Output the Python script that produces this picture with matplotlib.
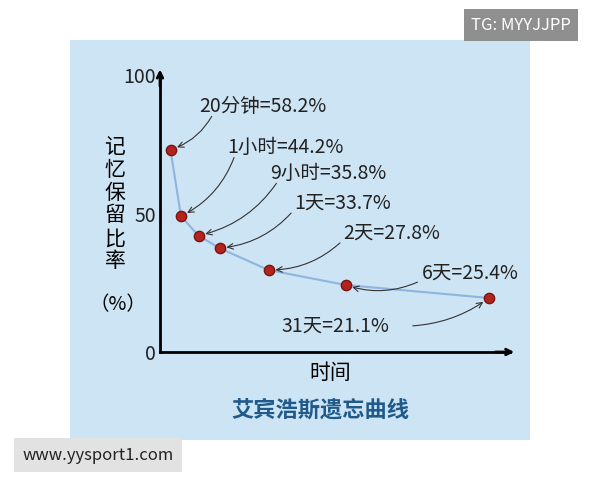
import matplotlib
matplotlib.use('Agg')
import matplotlib.pyplot as plt
from matplotlib.patches import Rectangle

plt.rcParams['font.family'] = ['Noto Sans CJK SC', 'DejaVu Sans']

# curve points (x: arbitrary time axis 0-100, y: % height on axis)
xs = [3, 6, 11, 17, 31, 53, 94]
ys = [73, 49, 42, 37.5, 29.6, 24.2, 19.5]
labels = ['20分钟=58.2%', '1小时=44.2%', '9小时=35.8%', '1天=33.7%',
          '2天=27.8%', '6天=25.4%', '31天=21.1%']
# label centres in pixel coords of the 600x480 image
label_px = [(263, 106), (285, 147), (328, 173), (343, 203),
            (392, 233), (470, 273), (335, 326)]

W, H = 600, 480


def fx(px):
    return px / W


def fy(py):
    return 1 - py / H


fig = plt.figure(figsize=(6, 4.8), dpi=100)
fig.patch.set_facecolor('white')
fig.add_artist(Rectangle((fx(70), fy(440)), fx(460), 400 / H,
                         transform=fig.transFigure, facecolor='#cde4f4',
                         edgecolor='none', zorder=0))

ax = fig.add_axes([fx(160), fy(352), fx(350), 277 / H])
ax.set_facecolor('none')
ax.set_xlim(0, 100)
ax.set_ylim(0, 100)
for s in ['top', 'right']:
    ax.spines[s].set_visible(False)
ax.spines['left'].set_linewidth(2)
ax.spines['bottom'].set_linewidth(2)
ax.set_xticks([])
ax.set_yticks([0, 50, 100])
ax.set_yticklabels(['0', '50', '100'], fontsize=14, color='#222222')
ax.tick_params(axis='y', length=0, pad=3)
ax.annotate('', xy=(102, 0), xytext=(95, 0), xycoords='data',
            arrowprops=dict(arrowstyle='->', lw=2, color='black'),
            annotation_clip=False)
ax.annotate('', xy=(0, 103), xytext=(0, 95),
            arrowprops=dict(arrowstyle='->', lw=2, color='black'),
            annotation_clip=False)

ax.plot(xs, ys, color='#8db5de', lw=1.5, zorder=2)
ax.scatter(xs, ys, s=55, color='#b3241e', edgecolor='#7a1410', zorder=3)

for (x, y), lab, (px, py) in zip(zip(xs, ys), labels, label_px):
    fig.text(fx(px), fy(py), lab, fontsize=14, ha='center', va='center',
             color='#222222')
    if lab.startswith('31'):
        start, rad = (fx(px + 75), fy(py)), 0.15
    else:
        start, rad = (fx(px - 50), fy(py + 8)), -0.2
    ax.annotate('', xy=(x, y), xytext=start, textcoords='figure fraction',
                arrowprops=dict(arrowstyle='->', lw=0.8, color='#333333',
                                connectionstyle=f'arc3,rad={rad}', shrinkB=5))

fig.text(fx(330), fy(373), '时间', fontsize=15, ha='center', va='center')
fig.text(fx(115), fy(204), '记\n忆\n保\n留\n比\n率', fontsize=15, ha='center',
         va='center', linespacing=1.05)
fig.text(fx(118), fy(305), '（%）', fontsize=14, ha='center', va='center')
fig.text(fx(320), fy(410), '艾宾浩斯遗忘曲线', fontsize=16, ha='center',
         va='center', color='#1f5a8a', fontweight='bold')

fig.text(fx(521), fy(25), 'TG: MYYJJPP', fontsize=12, color='white',
         ha='center', va='center',
         bbox=dict(boxstyle='square,pad=0.45', facecolor='#8f8f8f', edgecolor='none'))
fig.text(fx(98), fy(455), 'www.yysport1.com', fontsize=12, color='#222222',
         ha='center', va='center',
         bbox=dict(boxstyle='square,pad=0.5', facecolor='#e2e2e2', edgecolor='none'))

fig.savefig('out.png', dpi=100)
